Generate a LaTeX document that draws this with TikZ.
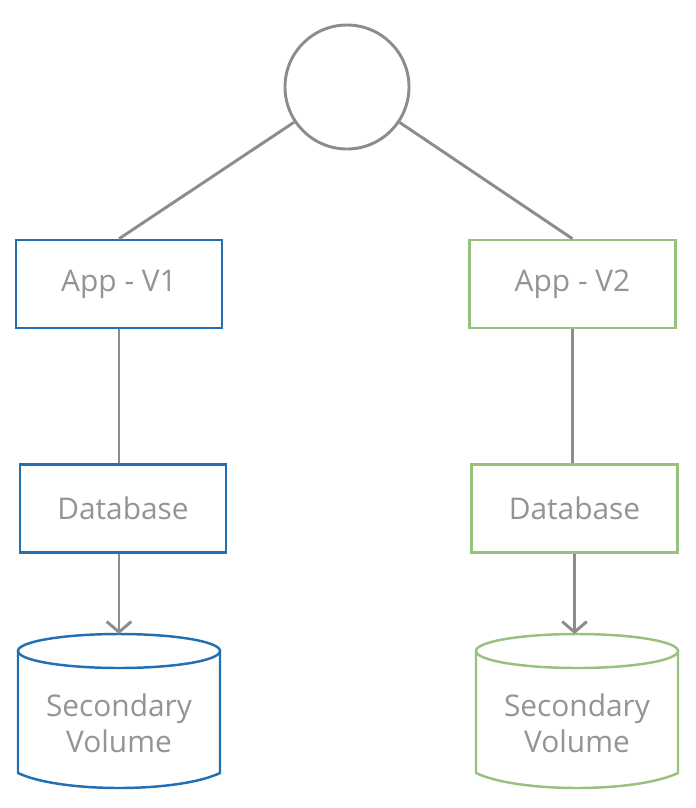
\documentclass[tikz,border=0pt]{standalone}
\usepackage{fontspec}
\setmainfont{Open Sans}
\usetikzlibrary{arrows.meta}

\definecolor{linegray}{RGB}{140,140,140}
\definecolor{textgray}{RGB}{148,148,148}
\definecolor{vblue}{RGB}{33,112,180}
\definecolor{vgreen}{RGB}{150,194,125}

\begin{document}
\begin{tikzpicture}[x=0.03cm,y=-0.03cm,
    link/.style={draw=linegray,line width=2.5pt},
    arr/.style={link,-{Straight Barb[length=9pt,width=21pt,line width=2.5pt]}},
    box/.style={draw,line width=2.1pt,minimum width=6.18cm,minimum height=2.64cm,
      inner sep=0pt,text=textgray,font=\fontsize{25.5}{31}\selectfont},
    lbl/.style={text=textgray,align=center,font=\fontsize{25.5}{31}\selectfont},
    cyl/.style={line width=2.1pt}]
  \useasboundingbox (0,0) rectangle (695,808);

  \node[circle,draw=linegray,line width=2.5pt,minimum size=3.72cm,inner sep=0pt] (root) at (347,87) {};

  \node[box,draw=vblue] (app1) at (119,284) {App - V1};
  \node[box,draw=vgreen] (app2) at (572.5,284) {App - V2};
  \node[box,draw=vblue] (db1) at (123,508.5) {Database};
  \node[box,draw=vgreen] (db2) at (574.5,508.5) {Database};

  % volumes
  \draw[cyl,draw=vblue] (119,651) ellipse [x radius=101,y radius=17];
  \draw[cyl,draw=vblue] (18,651) -- (18,773) .. controls (60,793) and (178,793) .. (220,773) -- (220,651);
  \coordinate (vol1top) at (119,634);
  \node[lbl] (vol1) at (119,723) {Secondary\\Volume};

  \draw[cyl,draw=vgreen] (577,651) ellipse [x radius=101,y radius=17];
  \draw[cyl,draw=vgreen] (476,651) -- (476,773) .. controls (518,793) and (636,793) .. (678,773) -- (678,651);
  \coordinate (vol2top) at (577,634);
  \node[lbl] (vol2) at (577,723) {Secondary\\Volume};

  \draw[link] (root) -- (app1.north);
  \draw[link] (root) -- (app2.north);
  \draw[link] (app1.south) -- (app1.south |- db1.north);
  \draw[link] (app2.south) -- (app2.south |- db2.north);
  \draw[arr] (vol1top |- db1.south) -- (vol1top);
  \draw[arr] (db2.south) -- (db2.south |- vol2top);
\end{tikzpicture}
\end{document}
